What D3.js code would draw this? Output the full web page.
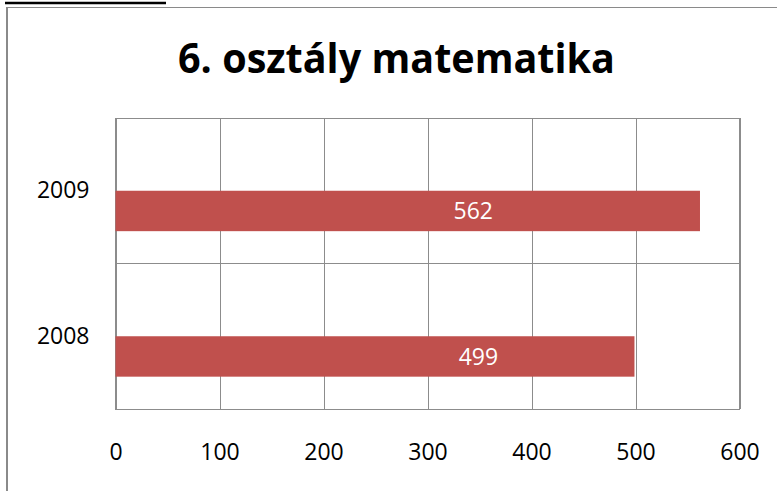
<!DOCTYPE html>
<html>
<head>
<meta charset="utf-8">
<script src="https://cdn.jsdelivr.net/npm/d3@7"></script>
<style>
  body { margin: 0; background: #fff; }
  svg { display: block; font-family: "Open Sans", sans-serif; }
</style>
</head>
<body>
<svg id="chart" width="777" height="491"></svg>
<script>
// data
const years = ["2009", "2008"];
const scores = [562, 499];
const labelAt = [344, 349]; // where the value labels sit, in axis units
const xTicks = [0, 100, 200, 300, 400, 500, 600];
const seriesSlots = ["empty", "score"]; // second (blank) series leaves the top slot free
const title = "6. osztály matematika";

const width = 777, height = 491;
const plot = {left: 115.5, right: 739.5, top: 118, bottom: 409};

const svg = d3.select("#chart");

// outer frame (only left + top edges show in the shot) and the black rule above it
svg.append("line")
  .attr("x1", 5).attr("x2", 166).attr("y1", 3).attr("y2", 3)
  .attr("stroke", "#000").attr("stroke-width", 2.5);
svg.append("line")
  .attr("x1", 7).attr("x2", width).attr("y1", 7.5).attr("y2", 7.5)
  .attr("stroke", "#8a8a8a").attr("stroke-width", 1);
svg.append("line")
  .attr("x1", 7).attr("x2", 7).attr("y1", 7).attr("y2", height)
  .attr("stroke", "#8a8a8a").attr("stroke-width", 2);

const x = d3.scaleLinear().domain([0, 600]).range([plot.left, plot.right]);
const y = d3.scaleBand().domain(years).range([plot.top, plot.bottom]).padding(0);
const ySub = d3.scaleBand().domain(seriesSlots).range([0, y.bandwidth()])
  .paddingInner(0).paddingOuter(0.8);

// vertical gridlines
svg.append("g")
  .attr("transform", "translate(0," + plot.bottom + ")")
  .call(d3.axisBottom(x).tickValues(xTicks).tickSize(-(plot.bottom - plot.top)).tickFormat(""))
  .call(g => g.select(".domain").remove())
  .selectAll("line")
  .attr("stroke", "#8c8c8c").attr("shape-rendering", "crispEdges");

// horizontal divider between categories + plot border
svg.append("g").selectAll("line")
  .data(years.slice(1))
  .enter().append("line")
  .attr("x1", plot.left).attr("x2", plot.right)
  .attr("y1", d => y(d)).attr("y2", d => y(d))
  .attr("stroke", "#8c8c8c").attr("shape-rendering", "crispEdges");
svg.append("rect")
  .attr("x", plot.left).attr("y", plot.top)
  .attr("width", plot.right - plot.left).attr("height", plot.bottom - plot.top)
  .attr("fill", "none").attr("stroke", "#8c8c8c").attr("shape-rendering", "crispEdges");

// bars
const bars = svg.append("g").selectAll("g.bar")
  .data(years.map((yr, i) => ({year: yr, value: scores[i], at: labelAt[i]})))
  .enter().append("g").attr("class", "bar");
bars.append("rect")
  .attr("x", x(0))
  .attr("y", d => y(d.year) + ySub("score"))
  .attr("width", d => x(d.value) - x(0))
  .attr("height", ySub.bandwidth())
  .attr("fill", "#c0504d");
bars.append("text")
  .attr("x", d => x(d.at))
  .attr("y", d => y(d.year) + ySub("score") + ySub.bandwidth() / 2)
  .attr("dy", "0.35em")
  .attr("text-anchor", "middle")
  .attr("fill", "#fff")
  .attr("font-size", 23)
  .text(d => d.value);

// x tick labels
svg.append("g")
  .attr("transform", "translate(0," + plot.bottom + ")")
  .call(d3.axisBottom(x).tickValues(xTicks).tickSize(0))
  .call(g => g.select(".domain").remove())
  .selectAll("text")
  .attr("y", 43).attr("dy", "0.35em")
  .attr("font-family", "Open Sans, sans-serif")
  .attr("font-size", 23).attr("fill", "#000");

// y category labels
svg.append("g")
  .attr("transform", "translate(" + plot.left + ",0)")
  .call(d3.axisLeft(y).tickSize(0).tickPadding(26))
  .call(g => g.select(".domain").remove())
  .selectAll("text")
  .attr("font-family", "Open Sans, sans-serif")
  .attr("font-size", 23).attr("fill", "#000");

// title
svg.append("text")
  .attr("x", 396.5).attr("y", 73)
  .attr("text-anchor", "middle")
  .attr("font-size", 42).attr("font-weight", "bold")
  .attr("fill", "#000")
  .attr("textLength", 437).attr("lengthAdjust", "spacingAndGlyphs")
  .text(title);
</script>
</body>
</html>
